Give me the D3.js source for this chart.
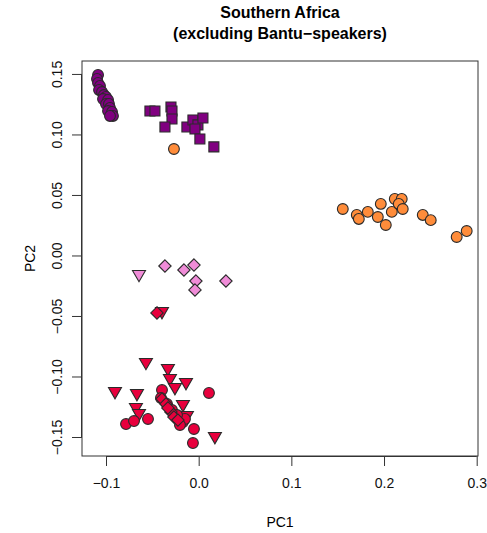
<!DOCTYPE html>
<html><head><meta charset="utf-8">
<script src="https://cdn.jsdelivr.net/npm/d3@7"></script>
<style>body{margin:0;background:#fff}svg{display:block}text{font-family:"Liberation Sans",Arial,sans-serif}</style>
</head><body>
<svg id="c" width="487" height="533"></svg>
<script>
const title = ["Southern Africa", "(excluding Bantu\u2212speakers)"];
const xLabel = "PC1", yLabel = "PC2";
const xTicks = [-0.1, 0.0, 0.1, 0.2, 0.3];
const xTickLabels = ["\u22120.1", "0.0", "0.1", "0.2", "0.3"];
const yTicks = [0.15, 0.10, 0.05, 0.00, -0.05, -0.10, -0.15];
const yTickLabels = ["0.15", "0.10", "0.05", "0.00", "\u22120.05", "\u22120.10", "\u22120.15"];

const purpleCircles = [[-0.1086,0.1492],[-0.1097,0.1459],[-0.1086,0.1426],[-0.1065,0.1401],[-0.1075,0.1368],[-0.1043,0.1351],[-0.1022,0.1326],[-0.1000,0.1310],[-0.1032,0.1293],[-0.0978,0.1285],[-0.1000,0.1252],[-0.0968,0.1252],[-0.0957,0.1219],[-0.0978,0.1194],[-0.0935,0.1186],[-0.0925,0.1153],[-0.0957,0.1153]];
const purpleSquares = [[-0.0526,0.1194],[-0.0472,0.1194],[-0.0299,0.1227],[-0.0288,0.1194],[-0.0288,0.1128],[-0.0364,0.1062],[-0.0127,0.1062],[-0.0062,0.1120],[-0.0008,0.1079],[0.0046,0.1136],[-0.0040,0.1045],[0.0013,0.0963],[0.0164,0.0897]];
const orangeCircles = [[-0.0267,0.0880],[0.1555,0.0384],[0.1706,0.0335],[0.1728,0.0302],[0.1825,0.0360],[0.1965,0.0426],[0.1933,0.0318],[0.2019,0.0252],[0.2084,0.0360],[0.2116,0.0467],[0.2191,0.0467],[0.2159,0.0426],[0.2202,0.0384],[0.2418,0.0335],[0.2504,0.0292],[0.2784,0.0153],[0.2892,0.0202]];
const pinkTriangles = [[-0.0644,-0.0161]];
const pinkDiamonds = [[-0.0364,-0.0087],[-0.0159,-0.0120],[-0.0051,-0.0079],[-0.0030,-0.0211],[-0.0040,-0.0285],[0.0294,-0.0211]];
const redTriangles = [[-0.0396,-0.0467],[-0.0569,-0.0888],[-0.0332,-0.0938],[-0.0310,-0.1021],[-0.0256,-0.1095],[-0.0137,-0.1054],[-0.0903,-0.1128],[-0.0666,-0.1145],[-0.0677,-0.1260],[-0.0644,-0.1310],[-0.0170,-0.1236],[-0.0127,-0.1326],[0.0175,-0.1500]];
const redCircles = [[0.0111,-0.1136],[-0.0396,-0.1112],[-0.0407,-0.1178],[-0.0342,-0.1227],[-0.0288,-0.1277],[-0.0784,-0.1393],[-0.0698,-0.1368],[-0.0547,-0.1351],[-0.0170,-0.1376],[-0.0148,-0.1351],[-0.0051,-0.1434],[-0.0062,-0.1550],[-0.0234,-0.1318],[-0.0202,-0.1401]];
const redDiamonds = [[-0.0450,-0.0475],[-0.0396,-0.1186],[-0.0353,-0.1227],[-0.0299,-0.1293],[-0.0267,-0.1335],[-0.0332,-0.1260],[-0.0224,-0.1360]];

const colors = {purple:"#800080", orange:"#FF8C3A", pink:"#F08CD8", red:"#E8003D"};
const groups = [
  {data: purpleCircles, shape:"circle", color: colors.purple},
  {data: purpleSquares, shape:"square", color: colors.purple},
  {data: orangeCircles, shape:"circle", color: colors.orange},
  {data: pinkTriangles, shape:"triangle", color: colors.pink},
  {data: pinkDiamonds, shape:"diamond", color: colors.pink},
  {data: redTriangles, shape:"triangle", color: colors.red},
  {data: redCircles, shape:"circle", color: colors.red},
  {data: redDiamonds, shape:"diamond", color: colors.red}
];

const L = 82, R = 478, T = 61, B = 456;
const x = d3.scaleLinear().domain([-0.1259, 0.3014]).range([L, R]);
const y = d3.scaleLinear().domain([-0.1657, 0.1607]).range([B, T]);
const svg = d3.select("#c");

svg.selectAll("text.title").data(title).enter().append("text")
  .attr("x", (L+R)/2).attr("y", (d,i)=> 18 + i*21).attr("text-anchor","middle")
  .attr("font-size", 16).attr("font-weight","bold").text(d=>d);

svg.append("rect").attr("x", L).attr("y", T).attr("width", R-L).attr("height", B-T)
  .attr("fill","none").attr("stroke","#333").attr("stroke-width",1);

const xAxis = d3.axisBottom(x).tickValues(xTicks).tickFormat((d,i)=>xTickLabels[i]).tickSize(10).tickPadding(12);
const gx = svg.append("g").attr("transform",`translate(0,${B})`).call(xAxis);
gx.select(".domain").attr("d", `M${x(xTicks[0])},0.5H${x(xTicks[xTicks.length-1])}`).attr("stroke","#333");
gx.selectAll(".tick line").attr("stroke","#333");
gx.selectAll("text").attr("font-size",14).attr("fill","#111").attr("font-family","Liberation Sans, Arial, sans-serif");

const yAxis = d3.axisLeft(y).tickValues(yTicks).tickFormat((d,i)=>yTickLabels[i]).tickSize(10).tickPadding(0);
const gy = svg.append("g").attr("transform",`translate(${L},0)`).call(yAxis);
gy.select(".domain").attr("d", `M-0.5,${y(yTicks[0])}V${y(yTicks[yTicks.length-1])}`).attr("stroke","#333");
gy.selectAll(".tick line").attr("stroke","#333");
gy.selectAll("text").attr("font-size",14).attr("fill","#111").attr("font-family","Liberation Sans, Arial, sans-serif")
  .attr("x",0).attr("dy",null).attr("text-anchor","middle")
  .attr("transform","translate(-25,0) rotate(-90)").attr("dominant-baseline","central");

svg.append("text").attr("x",(L+R)/2).attr("y",527).attr("text-anchor","middle").attr("font-size",14).text(xLabel);
svg.append("text").attr("transform",`translate(30,${(T+B)/2}) rotate(-90)`).attr("text-anchor","middle")
  .attr("dominant-baseline","central").attr("font-size",14).text(yLabel);

function shapePath(s){
  if (s==="circle") return d3.symbol().type(d3.symbolCircle).size(Math.PI*5.4*5.4)();
  if (s==="square") return "M-5,-5H5V5H-5Z";
  if (s==="diamond") return "M0,-6.2L6.2,0L0,6.2L-6.2,0Z";
  if (s==="triangle") return "M-6.5,-4.5H6.5L0,6.8Z";
}
const gp = svg.append("g");
groups.forEach(g=>{
  gp.selectAll(null).data(g.data).enter().append("path")
    .attr("d", shapePath(g.shape))
    .attr("transform", d=>`translate(${x(d[0])},${y(d[1])})`)
    .attr("fill", g.color).attr("stroke","#2a2a2a").attr("stroke-width",1.1);
});
</script>
</body></html>
